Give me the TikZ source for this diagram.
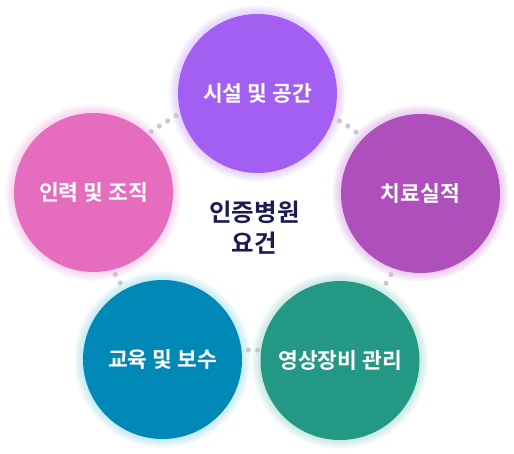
\documentclass[tikz,border=0pt]{standalone}
\usepackage{fontspec}
\setmainfont{Noto Sans CJK KR}[BoldFont={Noto Sans CJK KR Bold}]
\begin{document}
\begin{tikzpicture}[x=1pt,y=-1pt,
  bubble/.style={circle, minimum size=159pt, inner sep=0pt, text=white, font=\fontsize{21.5}{24}\selectfont\bfseries},
  dotc/.style={fill=dotgray},
  centertext/.style={text=navy, align=center, font=\fontsize{24.5}{31}\selectfont\bfseries}]
\definecolor{cTop}{HTML}{A35FF1}
\definecolor{gTop}{HTML}{C69AF8}
\definecolor{cRight}{HTML}{AF4FBB}
\definecolor{gRight}{HTML}{CC8BD8}
\definecolor{cLeft}{HTML}{E66DBD}
\definecolor{gLeft}{HTML}{F0A0D8}
\definecolor{cBL}{HTML}{0089B6}
\definecolor{gBL}{HTML}{7FD0E2}
\definecolor{cBR}{HTML}{239985}
\definecolor{gBR}{HTML}{88CCC0}
\definecolor{dotgray}{HTML}{C9C9CC}
\definecolor{navy}{HTML}{1B1B4F}
\useasboundingbox (0,0) rectangle (514,454);
% glows
\foreach \cx/\cy/\g in {257.5/93.5/gTop, 420.5/193.5/gRight, 93.5/192.5/gLeft, 162.5/359.5/gBL, 340/360.5/gBR}{
  \foreach \k in {1,...,9}{
    \fill[\g, opacity=0.06] (\cx,\cy) circle (79.5+\k);
  }
}
% dots
\foreach \p in {(151,131.7),(159.3,126),(167.7,121),(176,115.7),
                (339.3,121),(347.7,126),(356,132),
                (115.3,274.3),(120.3,283),
                (391,274.7),(386,283.3),
                (248.3,350),(257.7,350)}{
  \fill[dotc] \p circle (2.6);
}
\node[bubble, fill=cTop] (top) at (257.5,93.5) {시설 및 공간};
\node[bubble, fill=cRight] (right) at (420.5,193.5) {치료실적};
\node[bubble, fill=cLeft] (left) at (93.5,192.5) {인력 및 조직};
\node[bubble, fill=cBL] (bl) at (162.5,359.5) {교육 및 보수};
\node[bubble, fill=cBR] (br) at (340,360.5) {영상장비 관리};
\node[centertext] (center) at (254.5,228) {인증병원\\요건};
\end{tikzpicture}
\end{document}
